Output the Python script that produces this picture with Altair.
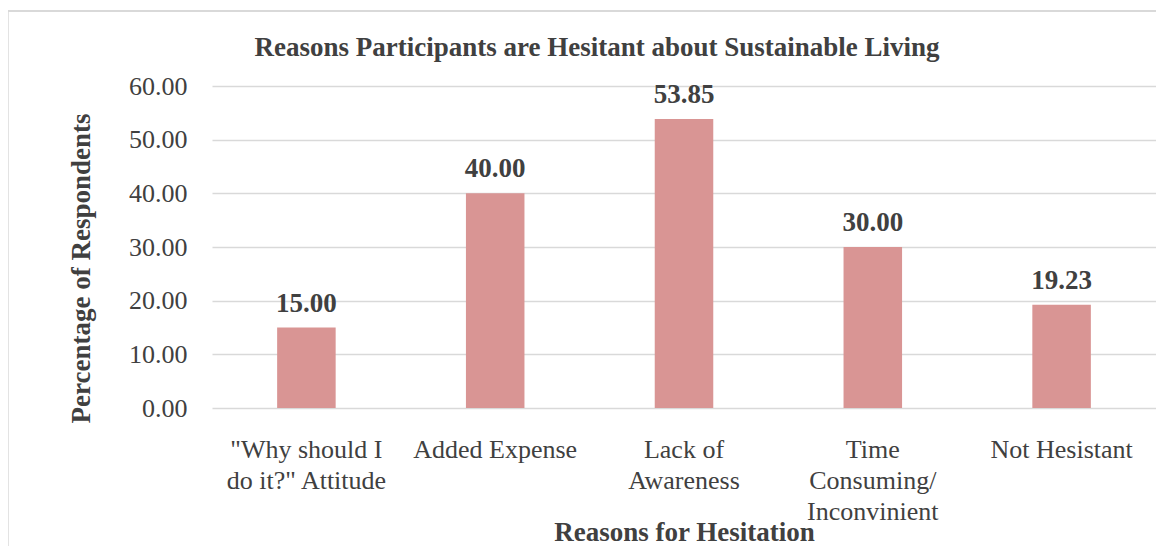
import altair as alt
import pandas as pd

categories = ['"Why should I do it?" Attitude', "Added Expense", "Lack of Awareness",
              "Time Consuming/ Inconvinient", "Not Hesistant"]
tick_labels = [['"Why should I', 'do it?" Attitude'], ["Added Expense"], ["Lack of", "Awareness"],
               ["Time", "Consuming/", "Inconvinient"], ["Not Hesistant"]]
values = [15.00, 40.00, 53.85, 30.00, 19.23]
y_ticks = [0, 10, 20, 30, 40, 50, 60]

df = pd.DataFrame({"cat": categories, "val": values})

FONT = "Liberation Serif"
TXT = "#404040"

parts = []
for c, t in zip(categories, tick_labels):
    parts.append("datum.label == " + repr(c).replace('"', '\\"') + " ? " + str(t).replace('"', '\\"'))
label_expr = " : ".join(parts) + " : datum.label"

x = alt.X("cat:N", sort=categories, title="Reasons for Hesitation",
          scale=alt.Scale(paddingInner=0.69, paddingOuter=0.345),
          axis=alt.Axis(labelExpr=label_expr, labelAngle=0, labelFont=FONT, labelFontSize=26,
                        labelColor=TXT, labelLineHeight=31, labelPadding=28, ticks=False,
                        domain=False, labelBaseline="top", labelLimit=300,
                        titleFont=FONT, titleFontSize=27, titleFontWeight="bold",
                        titleColor=TXT, titlePadding=-5))
y = alt.Y("val:Q", title="Percentage of Respondents",
          scale=alt.Scale(domain=[0, 60]),
          axis=alt.Axis(values=y_ticks, format=".2f", labelFont=FONT, labelFontSize=26,
                        labelColor=TXT, labelPadding=25, ticks=False, domain=False,
                        gridColor="#d9d9d9", gridWidth=1.3,
                        titleFont=FONT, titleFontSize=27, titleFontWeight="bold",
                        titleColor=TXT, titlePadding=33, titleY=182))

border = alt.Chart(df).mark_rect(fill=None, stroke="#d9d9d9", strokeWidth=1.5).encode(
    x=alt.value(-204.5), x2=alt.value(1100), y=alt.value(-75), y2=alt.value(700))

bars = alt.Chart(df).mark_bar(color="#D99594").encode(x=x, y=y)
labels = alt.Chart(df).mark_text(font=FONT, fontSize=27, fontWeight="bold", color=TXT,
                                 baseline="alphabetic", dy=-16).encode(
    x=alt.X("cat:N", sort=categories), y="val:Q", text=alt.Text("val:Q", format=".2f"))

chart = alt.layer(border, bars, labels).properties(
    width=944, height=322,
    title=alt.TitleParams("Reasons Participants are Hesitant about Sustainable Living",
                          font=FONT, fontSize=27, fontWeight="bold", color=TXT,
                          anchor="middle", dx=-87, dy=66, offset=14),
    autosize=alt.AutoSizeParams(type="none"),
    padding={"left": 204, "top": 78, "right": 0, "bottom": 138},
).configure(background="white").configure_view(stroke=None)

chart.save("out.html", embed_options={"renderer": "svg", "actions": False})
